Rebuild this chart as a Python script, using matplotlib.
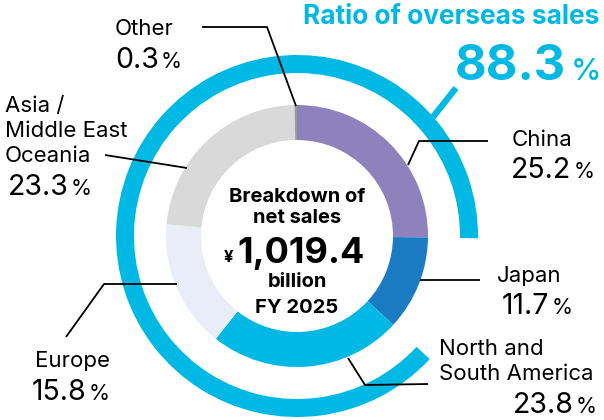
import matplotlib.pyplot as plt

plt.rcParams['font.family'] = ['Inter', 'DejaVu Sans']

# sales breakdown, clockwise from 12 o'clock
regions = ['China', 'Japan', 'North and\nSouth America', 'Europe',
           'Asia /\nMiddle East\nOceania', 'Other']
shares = [25.2, 11.7, 23.8, 15.8, 23.3, 0.3]
colors = ['#8d82bc', '#1b7bc2', '#00b8e4', '#e9edf7', '#d9d9d9', '#9a9a9a']
overseas = 88.3
total_sales = '1,019.4'
cyan = '#00b8e4'

H = 420
cx, cy = 297, H - 236

fig = plt.figure(figsize=(6.04, 4.20), dpi=100)
ax = fig.add_axes([0, 0, 1, 1])

# inner ring: breakdown
ax.pie(shares, colors=colors, startangle=90, counterclock=False,
       radius=131, center=(cx, cy),
       wedgeprops=dict(width=35, linewidth=0))

# outer ring: overseas ratio, gap where Japan sits
start = 90 - 3.6 * (shares[0] + shares[1])
ax.pie([overseas, 100 - overseas], colors=[cyan, 'none'], startangle=start,
       counterclock=False, radius=181, center=(cx, cy),
       wedgeprops=dict(width=18, linewidth=0))

ax.set_xlim(0, 604)
ax.set_ylim(0, H)
ax.set_aspect('equal')
ax.axis('off')

# leader lines (pixel coords, y from top)
leaders = [
    [(296, 106), (267, 27), (202, 27)],          # Other
    [(187, 168), (105, 155)],                    # Asia
    [(408, 165), (419, 141), (488, 141)],        # China
    [(420, 280), (480, 280)],                    # Japan
    [(348, 358), (365, 385), (428, 384)],        # Americas
    [(177, 284), (104, 284), (66, 337)],         # Europe
]
for pts in leaders:
    ax.plot([p[0] for p in pts], [H - p[1] for p in pts], color='black', lw=1.3,
            solid_capstyle='butt')
ax.plot([456, 433], [H - 88, H - 117], color=cyan, lw=4.5, solid_capstyle='butt')


def label(x, yname, name, xn, ynum, value):
    # yname is the baseline of the last line of the name
    ax.text(x, H - yname, name, fontsize=16, va='baseline', ha='left',
            linespacing=1.32)
    t = ax.text(xn, H - ynum, f'{value}', fontsize=20.5, va='baseline', ha='left')
    ax.annotate('%', xy=(1, H - ynum), xycoords=(t, 'data'), xytext=(1.5, 0),
                textcoords='offset points', fontsize=15.5, va='baseline', ha='left')


label(115, 35, 'Other', 115, 68, shares[5])
label(5, 162, regions[4], 8, 195, shares[4])
label(512, 146, regions[0], 511, 178, shares[0])
label(497, 282, regions[1], 502, 314, shares[1])
label(439, 380, regions[2], 513, 413, shares[2])
label(35, 367, regions[3], 32, 400, shares[3])

# overseas ratio
ax.text(303, H - 24, 'Ratio of overseas sales', color=cyan, fontsize=18.9,
        fontweight='bold', va='baseline', ha='left')
t = ax.text(455, H - 80, f'{overseas}', color=cyan, fontsize=35,
            fontweight='bold', va='baseline', ha='left')
ax.annotate('%', xy=(1, H - 80), xycoords=(t, 'data'), xytext=(3, 0),
            textcoords='offset points', color=cyan, fontsize=22,
            fontweight='medium', va='baseline', ha='left')

# center text
ax.text(cx, H - 202, 'Breakdown of', fontsize=14.5, fontweight='bold',
        ha='center', va='baseline')
ax.text(cx, H - 223, 'net sales', fontsize=14.5, fontweight='bold',
        ha='center', va='baseline')
t = ax.text(237, H - 263, total_sales, fontsize=26, fontweight='bold',
            ha='left', va='baseline')
ax.text(233, H - 262, '¥', fontsize=12, fontweight='bold', ha='right',
        va='baseline')
ax.text(cx, H - 287, 'billion', fontsize=14.5, fontweight='bold',
        ha='center', va='baseline')
ax.text(cx, H - 313, 'FY 2025', fontsize=14.5, fontweight='bold',
        ha='center', va='baseline')

fig.savefig('out.png', dpi=100)
